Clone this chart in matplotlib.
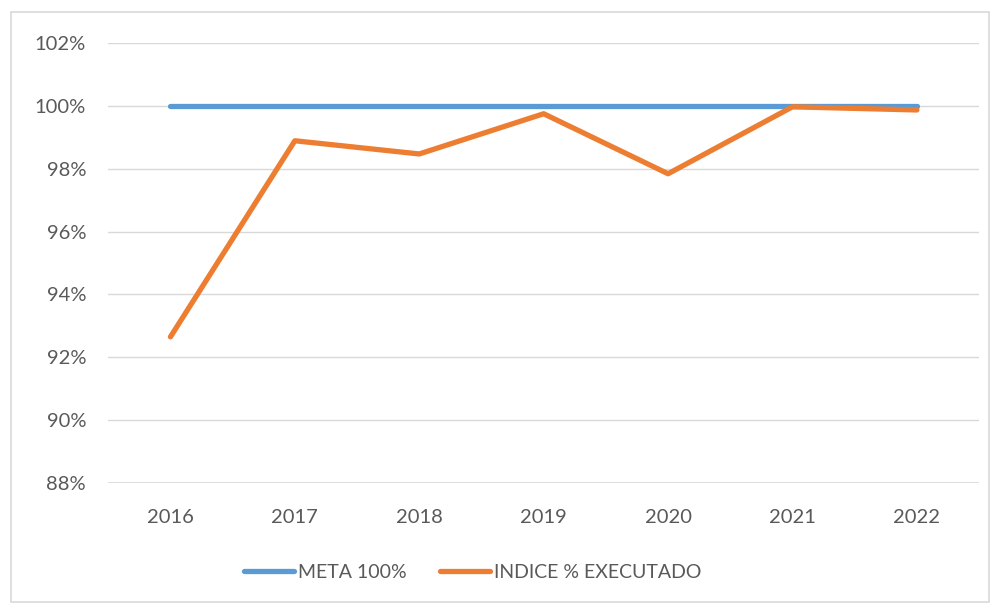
import matplotlib.pyplot as plt
from matplotlib.patches import Rectangle
from matplotlib.ticker import FuncFormatter

plt.rcParams['font.family'] = ['Lato', 'DejaVu Sans']

anos = ["2016", "2017", "2018", "2019", "2020", "2021", "2022"]
meta = [100, 100, 100, 100, 100, 100, 100]
indice = [92.65, 98.89, 98.47, 99.75, 97.84, 99.97, 99.87]

cinza = "#595959"
fig = plt.figure(figsize=(9.93, 6.06), dpi=100)
ax = fig.add_axes([0.109, 0.203, 0.877, 0.726])

x = range(len(anos))
ax.plot(x, meta, color="#5B9BD5", lw=3.8, solid_capstyle="round", label="META 100%", zorder=3)
ax.plot(x, indice, color="#ED7D31", lw=3.8, solid_capstyle="round", label="INDICE % EXECUTADO", zorder=4)

ax.set_xlim(-0.5, 6.5)
ax.set_ylim(88, 102)
ax.set_yticks([88, 90, 92, 94, 96, 98, 100, 102])
ax.yaxis.set_major_formatter(FuncFormatter(lambda v, p: f"{v:.0f}%"))
ax.set_xticks(list(x))
ax.set_xticklabels(anos)
ax.tick_params(length=0, labelsize=14.5, labelcolor=cinza)
ax.tick_params(axis="y", pad=16)
ax.tick_params(axis="x", pad=19)
ax.grid(axis="y", color="#D9D9D9", lw=1)
ax.set_axisbelow(True)
for s in ax.spines.values():
    s.set_visible(False)
ax.axhline(88, color="#D9D9D9", lw=1.2, zorder=1)

leg = fig.legend(loc="center", bbox_to_anchor=(0.476, 0.056), ncol=2, frameon=False,
                 fontsize=14, handlelength=2.6, columnspacing=1.7, handletextpad=0.2)
for t in leg.get_texts():
    t.set_color(cinza)

fig.patches.append(Rectangle((0.011, 0.006), 0.985, 0.974, transform=fig.transFigure,
                             fill=False, edgecolor="#D9D9D9", lw=1.2))

fig.savefig("out.png", dpi=100)
